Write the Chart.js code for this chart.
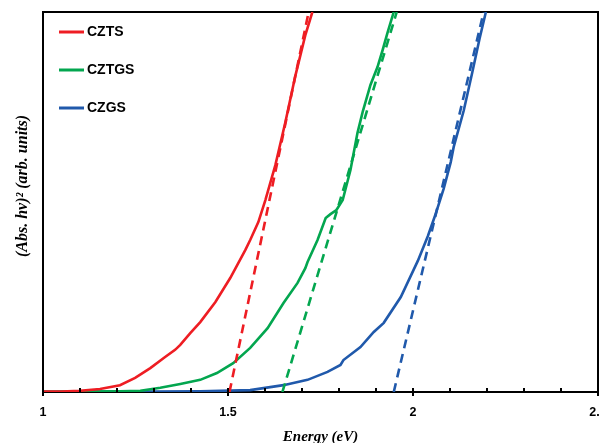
<!DOCTYPE html>
<html>
<head>
<meta charset="utf-8">
<script src="https://cdn.jsdelivr.net/npm/chart.js@4.4.0/dist/chart.umd.min.js"></script>
<style>
    html, body { margin: 0; padding: 0; background: #fff; overflow: hidden; }
    #wrap { position: relative; width: 620px; height: 455px; }
</style>
</head>
<body>
<div id="wrap"><canvas id="chart"></canvas></div>
<script>
// measured curves, energy in eV and (Abs. hv)^2 in arbitrary units (0..100 = axis height)
const cztsE = [1.00, 1.05, 1.10, 1.154, 1.208, 1.249, 1.290, 1.330, 1.357, 1.371, 1.398, 1.425, 1.466, 1.506, 1.547, 1.560, 1.582, 1.601, 1.628, 1.655, 1.682, 1.709, 1.728];
const cztsA = [0.1, 0.1, 0.3, 0.8, 1.8, 3.7, 6.3, 9.2, 11.1, 12.4, 15.5, 18.4, 23.7, 30.0, 37.4, 40.0, 44.7, 50.5, 59.7, 71.0, 83.2, 93.9, 100];

const cztgsE = [1.00, 1.10, 1.208, 1.263, 1.317, 1.371, 1.425, 1.470, 1.514, 1.560, 1.607, 1.650, 1.688, 1.709, 1.715, 1.742, 1.764, 1.777, 1.793, 1.810, 1.831, 1.850, 1.864, 1.885, 1.904, 1.918, 1.931, 1.948];
const cztgsA = [0.05, 0.1, 0.2, 0.3, 1.1, 2.1, 3.2, 5.0, 7.6, 11.6, 16.8, 23.4, 28.7, 32.6, 34.2, 40.0, 45.8, 46.8, 47.9, 50.5, 58.4, 68.2, 73.7, 80.8, 85.5, 90.0, 94.5, 100];

const czgsE = [1.00, 1.30, 1.425, 1.560, 1.650, 1.715, 1.769, 1.804, 1.812, 1.858, 1.894, 1.921, 1.967, 2.013, 2.040, 2.060, 2.083, 2.102, 2.110, 2.137, 2.160, 2.180, 2.197];
const czgsA = [0.05, 0.1, 0.2, 0.5, 1.8, 3.2, 5.3, 7.1, 8.4, 11.8, 15.8, 18.2, 25.0, 34.5, 41.0, 46.5, 53.5, 60.5, 64.5, 74.0, 84.0, 93.0, 100];

// linear extrapolations (band gap fits)
const fitA = [0, 100];
const cztsFitE = [1.504, 1.718];
const cztgsFitE = [1.647, 1.956];
const czgsFitE = [1.948, 2.191];

const labels = ["CZTS", "CZTGS", "CZGS"];
const colors = ["#ee1d23", "#03a64f", "#2059ab"];

const toPoints = (xs, ys) => xs.map((x, i) => ({ x: x, y: ys[i] }));

function solid(i, xs, ys) {
    return {
        label: labels[i],
        data: toPoints(xs, ys),
        borderColor: colors[i],
        borderWidth: 2.6,
        pointRadius: 0,
        tension: 0,
    };
}

function dashed(i, xs, ys) {
    return {
        label: labels[i] + " fit",
        data: toPoints(xs, ys),
        borderColor: colors[i],
        borderWidth: 2.6,
        borderDash: [9, 6],
        pointRadius: 0,
        tension: 0,
    };
}

const framePlugin = {
    id: "frame",
    beforeDatasetsDraw(chart) {
        const { ctx, chartArea: a } = chart;
        ctx.save();
        ctx.strokeStyle = "#000";
        ctx.lineWidth = 2;
        ctx.strokeRect(a.left, a.top, a.right - a.left, a.bottom - a.top);
        ctx.restore();
    },
    afterDraw(chart) {
        const { ctx, chartArea: a } = chart;
        const x = chart.scales.x;
        ctx.save();
        ctx.strokeStyle = "#000";
        ctx.lineWidth = 2;
        // inside tick marks, majors cross the axis
        x.ticks.forEach((t) => {
            const px = x.getPixelForValue(t.value);
            const major = Math.round(t.value * 10) % 5 === 0;
            ctx.beginPath();
            ctx.moveTo(px, a.bottom - 4);
            ctx.lineTo(px, a.bottom + (major ? 4 : 0));
            ctx.stroke();
        });

        // legend inside the plot
        ctx.font = "bold 14px 'Liberation Sans', Arial";
        ctx.textBaseline = "middle";
        ctx.textAlign = "left";
        ctx.lineWidth = 3;
        labels.forEach((lab, i) => {
            const y = 32 + i * 38;
            ctx.strokeStyle = colors[i];
            ctx.beginPath();
            ctx.moveTo(59, y);
            ctx.lineTo(84, y);
            ctx.stroke();
            ctx.fillStyle = "#000";
            ctx.fillText(lab, 87, y + 0.5);
        });

        // y axis title
        ctx.translate(23, 186);
        ctx.rotate(-Math.PI / 2);
        ctx.textAlign = "center";
        ctx.font = "italic bold 16px 'Liberation Serif', 'Times New Roman'";
        ctx.fillText("(Abs. hv)\u00B2 (arb. units)", 0, 0);
        ctx.restore();
    },
};

new Chart(document.getElementById("chart"), {
    type: "line",
    data: {
        datasets: [
            dashed(0, cztsFitE, fitA),
            dashed(1, cztgsFitE, fitA),
            dashed(2, czgsFitE, fitA),
            solid(0, cztsE, cztsA),
            solid(1, cztgsE, cztgsA),
            solid(2, czgsE, czgsA),
        ],
    },
    options: {
        responsive: true,
        maintainAspectRatio: false,
        animation: false,
        layout: { padding: { top: 12, right: 22, left: 0, bottom: 0 } },
        plugins: {
            legend: { display: false },
            tooltip: { enabled: false },
        },
        scales: {
            x: {
                type: "linear",
                min: 1,
                max: 2.5,
                grid: { display: false, drawTicks: false },
                border: { display: false },
                ticks: {
                    stepSize: 0.1,
                    autoSkip: false,
                    maxRotation: 0,
                    padding: 13,
                    color: "#000",
                    font: { family: "'Liberation Sans', Arial", size: 12.5, weight: "bold" },
                    callback: (v) => (Math.round(v * 10) % 5 === 0 ? String(Math.round(v * 10) / 10) : ""),
                },
                title: {
                    display: true,
                    text: "Energy (eV)",
                    color: "#000",
                    padding: { top: 0, bottom: 9 },
                    font: { family: "'Liberation Serif', 'Times New Roman'", size: 15, weight: "bold", style: "italic" },
                },
                afterFit: (scale) => { scale.height = 63; },
            },
            y: {
                min: 0,
                max: 100,
                grid: { display: false },
                border: { display: false },
                ticks: { display: false },
                afterFit: (scale) => { scale.width = 43; },
            },
        },
    },
    plugins: [framePlugin],
});
</script>
</body>
</html>
